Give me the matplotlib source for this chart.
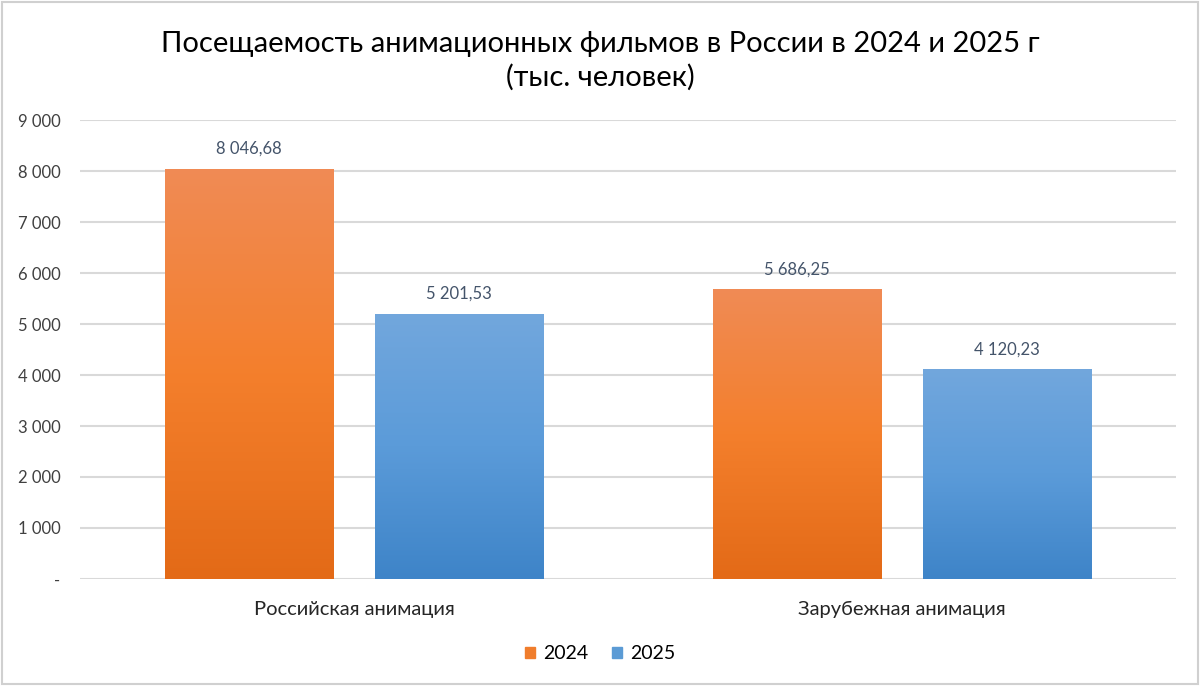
import numpy as np
import matplotlib.pyplot as plt
from matplotlib.colors import LinearSegmentedColormap
from matplotlib.patches import Rectangle

categories = ["Российская анимация", "Зарубежная анимация"]
years = ["2024", "2025"]
values_2024 = [8046.68, 5686.25]
values_2025 = [5201.53, 4120.23]
yticks = [0, 1000, 2000, 3000, 4000, 5000, 6000, 7000, 8000, 9000]

plt.rcParams['font.family'] = ['Lato', 'DejaVu Sans']

def fmt_num(v, dec=0):
    s = f"{v:,.{dec}f}".replace(",", " ").replace(".", ",")
    return s

fig = plt.figure(figsize=(12, 6.86), dpi=100)
ax = fig.add_axes([0.0667, 0.156, 0.9133, 0.669])

x = np.arange(len(categories))
w = 0.308
off = 0.1916

grad_orange = LinearSegmentedColormap.from_list("o", ["#E36A17", "#F47F2C", "#F08B55"])
grad_blue = LinearSegmentedColormap.from_list("b", ["#3E84C8", "#5B9BD9", "#72A7DD"])

legend_colors = ["#F07D2C", "#5B9BD5"]
for vals, sign, cmap in [(values_2024, -1, grad_orange),
                         (values_2025, 1, grad_blue)]:
    bars = ax.bar(x + sign * off, vals, width=w, color="none", edgecolor="none")
    for b, v in zip(bars, vals):
        x0, x1 = b.get_x(), b.get_x() + b.get_width()
        grad = np.linspace(0, 1, 256).reshape(-1, 1)
        im = ax.imshow(grad, extent=[x0, x1, 0, v], origin="lower", cmap=cmap,
                       aspect="auto", zorder=2)
        im.set_clip_path(b)
        ax.text(b.get_x() + b.get_width() / 2, v + 230, fmt_num(v, 2),
                ha="center", va="bottom", fontsize=12, color="#44546A")

ax.set_xlim(-0.5, 1.5)
ax.set_ylim(0, 9000)
ax.set_yticks(yticks)
ax.set_yticklabels(["-" if t == 0 else fmt_num(t) for t in yticks])
ax.set_xticks(x)
ax.set_xticklabels(categories)
ax.tick_params(axis="y", length=0, pad=14, labelsize=12, labelcolor="#404040")
ax.tick_params(axis="x", length=0, pad=16, labelsize=14.5, labelcolor="#262626")
ax.grid(axis="y", color="#D9D9D9", linewidth=1.5, zorder=0)
ax.set_axisbelow(True)
for s in ax.spines.values():
    s.set_visible(False)

handles = [Rectangle((0, 0), 1, 1, color=c) for c in legend_colors]
fig.legend(handles, years, loc="center", bbox_to_anchor=(0.5, 0.047), ncol=2,
           frameon=False, fontsize=14, handlelength=0.55, handleheight=0.55,
           handletextpad=0.4, columnspacing=1.2)

fig.suptitle("Посещаемость анимационных фильмов в России в 2024 и 2025 г\n(тыс. человек)",
             y=0.955, fontsize=21, color="#000000", linespacing=1.3)

fig.patches.append(Rectangle((0.002, 0.003), 0.996, 0.994, transform=fig.transFigure,
                             fill=False, edgecolor="#D0D0D0", linewidth=1.5))

plt.savefig("out.png", dpi=100)
